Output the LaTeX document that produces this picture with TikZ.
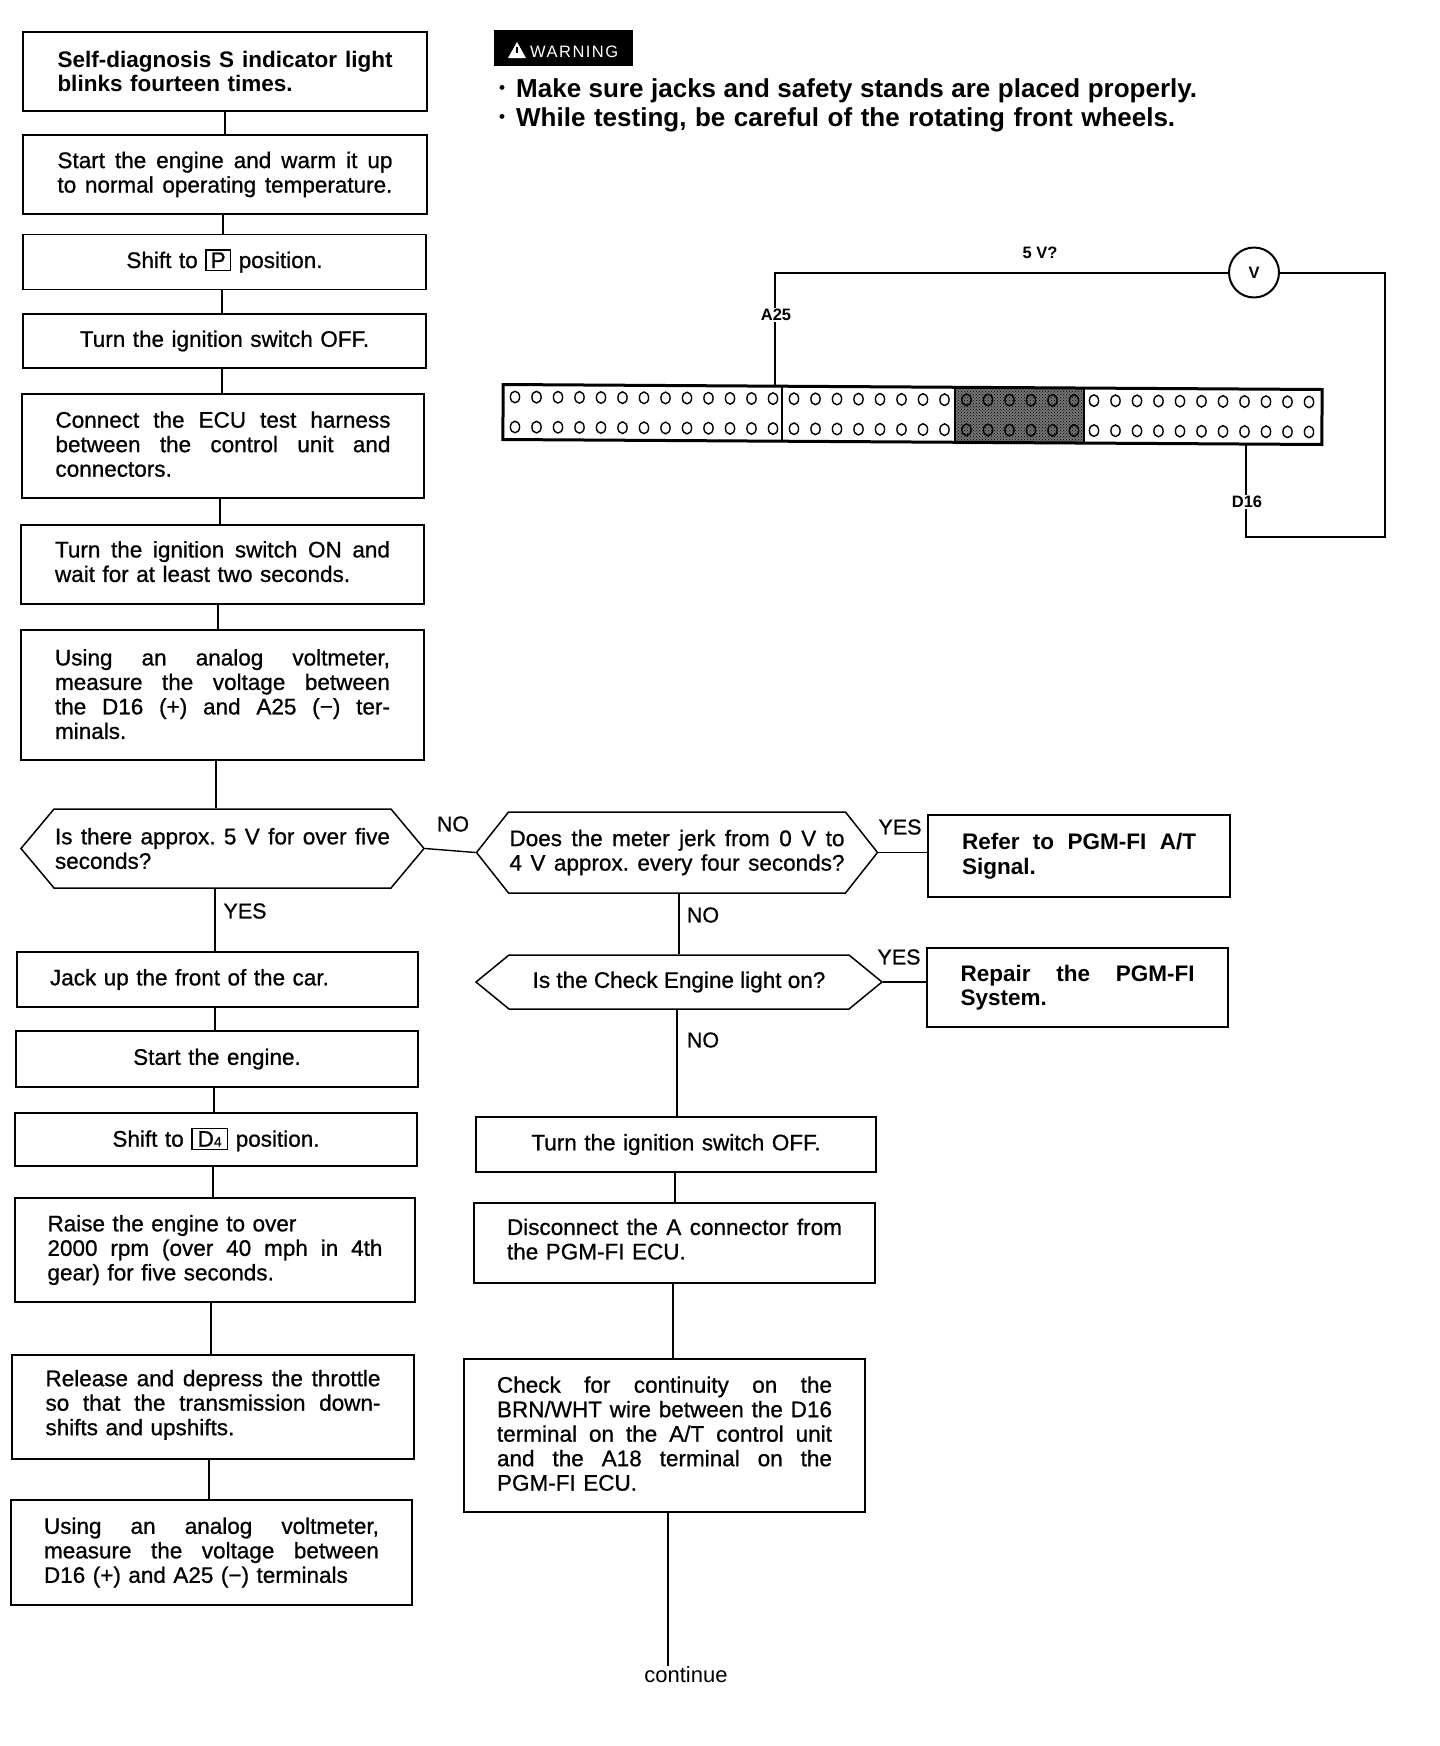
\documentclass[tikz,border=0pt]{standalone}
\usepackage{fontspec}
\setmainfont{Liberation Sans}
\newfontfamily\medf[FakeBold=0.8]{Liberation Sans}
\newfontfamily\bldf{Liberation Sans Bold}
\usetikzlibrary{shapes.symbols,patterns}
\frenchspacing
\newcommand\jl[2][335pt]{\makebox[#1][s]{\spaceskip=0pt\xspaceskip=0pt #2}}
\newcommand\up[1]{\rule[-#1]{0pt}{0pt}}
\newcommand\conn[3]{\draw[wire] (#1.south -| #3,0) -- (#2.north -| #3,0);}
\tikzset{
  x=1pt,y=-1pt,
  wire/.style={line width=1.4pt,black},
  thickw/.style={line width=2pt,black},
  box/.style={draw=black,line width=1.5pt,rectangle,inner sep=0pt,minimum width=#1,align=left,
    font=\medf\frenchspacing\fontsize{22.5}{24.5}\selectfont,text width=335pt},
  cbox/.style={box=#1,align=center},
  bbox/.style={box=#1,font=\bldf\frenchspacing\fontsize{22.5}{24.5}\selectfont},
  hexn/.style={draw=black,line width=1.5pt,signal,signal to=east and west,signal from=nowhere,
    signal pointer angle=#1,inner sep=0pt,align=left,font=\medf\frenchspacing\fontsize{22.5}{24.5}\selectfont},
  tag/.style={font=\medf\fontsize{21.5}{24}\selectfont,inner sep=0pt},
  small/.style={font=\bldf\fontsize{16.5}{18}\selectfont,inner sep=1.5pt},
  warnline/.style={font=\bldf\fontsize{26}{28}\selectfont,inner sep=0pt,anchor=west},
  pin/.style={draw=black,line width=1.4pt,fill=none},
}
\begin{document}
\begin{tikzpicture}
\useasboundingbox (0,0) rectangle (1440,1746);
\fill[white] (0,0) rectangle (1440,1746);

% left column
\node[bbox=404pt,minimum height=79pt] (b1) at (225,71.5) {\jl{Self-diagnosis S indicator light}\\blinks fourteen times.};
\node[box=404pt,minimum height=79pt] (b2) at (225,174.5) {\jl{Start the engine and warm it up}\\\jl{to normal operating temperature.}};
\node[cbox=403pt,minimum height=55pt] (b3) at (224.5,262) {Shift to \fboxsep=2pt\fboxrule=1.5pt\fbox{\makebox[19pt]{P}} position.\up{7pt}};
\node[cbox=403pt,minimum height=54pt] (b4) at (224.5,341) {Turn the ignition switch OFF.};
\node[box=402pt,minimum height=104pt] (b5) at (223,446) {\jl{Connect the ECU test harness}\\\jl{between the control unit and}\\connectors.\up{4pt}};
\node[box=403pt,minimum height=79pt] (b6) at (222.5,564.5) {\jl{Turn the ignition switch ON and}\\wait for at least two seconds.\up{6pt}};
\node[box=403pt,minimum height=130pt] (b7) at (222.5,695) {\jl{Using an analog voltmeter,}\\\jl{measure the voltage between}\\\jl{the D16 (+) and A25 ({\char"2212}) ter-}\\minals.\up{2pt}};
\node[hexn=100.2,minimum width=403pt,minimum height=79pt] (d1) at (222.5,848.5) {\jl{Is there approx. 5 V for over five}\\seconds?};
\node[box=401pt,minimum height=55pt] (b8) at (217.5,979.5) {Jack up the front of the car.};
\node[cbox=402pt,minimum height=56pt] (b9) at (217,1059) {Start the engine.};
\node[cbox=402pt,minimum height=53pt] (b10) at (216,1139.5) {Shift to \fboxsep=2pt\fboxrule=1.5pt\fbox{\makebox[30pt]{D{\fontsize{14}{14}\selectfont 4}}} position.};
\node[box=400pt,minimum height=104pt] (b11) at (215,1250) {Raise the engine to over\\\jl{2000 rpm (over 40 mph in 4th}\\gear) for five seconds.};
\node[box=402pt,minimum height=104pt] (b12) at (213,1407) {\jl{Release and depress the throttle}\\\jl{so that the transmission down-}\\shifts and upshifts.\up{9pt}};
\node[box=401pt,minimum height=105pt] (b13) at (211.5,1552.5) {\jl{Using an analog voltmeter,}\\\jl{measure the voltage between}\\D16 (+) and A25 ({\char"2212}) terminals};

% right column
\node[hexn=103.3,minimum width=401pt,minimum height=81pt] (d2) at (677,852.5) {\jl{Does the meter jerk from 0 V to}\\\jl{4 V approx. every four seconds?}};
\node[hexn=78.6,minimum width=406pt,minimum height=54pt,align=center] (d3) at (679,982) {Is the Check Engine light on?};
\node[cbox=400pt,minimum height=55pt] (r1) at (676,1144.5) {Turn the ignition switch OFF.};
\node[box=401pt,minimum height=80pt] (r2) at (674.5,1243) {\jl{Disconnect the A connector from}\\the PGM-FI ECU.\up{8pt}};
\node[box=401pt,minimum height=153pt] (r3) at (664.5,1435.5) {\jl{Check for continuity on the}\\\jl{BRN/WHT wire between the D16}\\\jl{terminal on the A/T control unit}\\\jl{and the A18 terminal on the}\\PGM-FI ECU.\up{4pt}};
\node[bbox=302pt,minimum height=82pt,text width=234pt] (y1) at (1079,856) {\jl[234pt]{Refer to PGM-FI A/T}\\Signal.};
\node[bbox=301pt,minimum height=79pt,text width=234pt] (y2) at (1077.5,987.5) {\jl[234pt]{Repair the PGM-FI}\\System.};
\node[font=\fontsize{22}{24}\selectfont,inner sep=0pt,minimum height=18pt] (cont) at (686,1675) {continue};

% connectors
\conn{b1}{b2}{225}
\conn{b2}{b3}{223}
\conn{b3}{b4}{222}
\conn{b4}{b5}{222}
\conn{b5}{b6}{220}
\conn{b6}{b7}{218}
\conn{b7}{d1}{216}
\conn{d1}{b8}{215}
\conn{b8}{b9}{215}
\conn{b9}{b10}{214}
\conn{b10}{b11}{213}
\conn{b11}{b12}{211}
\conn{b12}{b13}{209}
\conn{d2}{d3}{679}
\conn{d3}{r1}{677}
\conn{r1}{r2}{675}
\conn{r2}{r3}{673}
\conn{r3}{cont}{668}
\draw[wire] (d1.east) -- (d2.west);
\draw[wire] (d2.east) -- (y1.west |- d2.east);
\draw[wire] (d3.east) -- (y2.west |- d3.east);

% branch labels
\node[tag] (lno1) at (453,824) {NO};
\node[tag] (lyes1) at (245,911) {YES};
\node[tag] (lno2) at (703,915) {NO};
\node[tag] (lno3) at (703,1040) {NO};
\node[tag] (lyes2) at (900,827) {YES};
\node[tag] (lyes3) at (899,957) {YES};

% warning
\node[fill=black,minimum width=139pt,minimum height=36pt,inner sep=0pt] (wbox) at (563.5,48) {};
\node[font=\fontsize{16.5}{18}\selectfont,text=white,inner sep=0pt,anchor=west] (wtxt) at (530,52) {\addfontfeature{LetterSpace=9}WARNING};
\fill[white] (508,58) -- (517,42) -- (526,58) -- cycle;
\draw[black,line width=1.6pt] (517,47) -- (517,53);
\node[warnline,font=\bldf\fontsize{17}{17}\selectfont] (w0a) at (499,89) {\textbullet};
\node[warnline] (w1) at (516,91) {\makebox[681pt][s]{Make sure jacks and safety stands are placed properly.}};
\node[warnline,font=\bldf\fontsize{17}{17}\selectfont] (w0b) at (499,118) {\textbullet};
\node[warnline] (w2) at (516,120) {\makebox[659pt][s]{While testing, be careful of the rotating front wheels.}};

% connector block
\fill[black!55] (955,388) rectangle (1084,444);
\fill[pattern=crosshatch dots,pattern color=black] (955,388) rectangle (1084,444);
\node[draw=black,line width=3pt,rectangle,rotate=-0.35,minimum width=819pt,minimum height=55pt,inner sep=0pt] (block) at (912.5,414.5) {};
\draw[black,line width=1.8pt] (782,387) -- (782,441);
\draw[black,line width=1.4pt] (955,388) -- (955,443);
\draw[black,line width=1.4pt] (1084,389) -- (1084,444);
\foreach \xa/\n in {515/13,794/8,966.5/6,1094/11}{
  \pgfmathtruncatemacro\m{\n-1}
  \foreach \i in {0,...,\m}{
    \pgfmathsetmacro\px{\xa+\i*21.5}
    \pgfmathsetmacro\pa{397+(\px-515)*5/800}
    \pgfmathsetmacro\pb{427+(\px-515)*5/800}
    \draw[pin] (\px,\pa) ellipse [x radius=4.6pt,y radius=5.8pt];
    \draw[pin] (\px,\pb) ellipse [x radius=4.6pt,y radius=5.8pt];
  }
}
\node[draw=black,circle,line width=2pt,minimum size=50pt,inner sep=0pt,font=\bldf\fontsize{16.5}{18}\selectfont] (vm) at (1254,272.5) {V};
\coordinate (tl) at (775,272);
\coordinate (tr) at (1385,273);
\coordinate (br) at (1385,537);
\coordinate (bl) at (1246,537);
\draw[thickw] (vm.west) -- (vm.west -| tl) -- (block.north -| tl);
\draw[thickw] (vm.east) -- (vm.east -| tr) -- (br) -- (bl) -- (block.south -| bl);
\node[small,fill=white] (la) at (776,315) {A25};
\node[small,fill=white] (ld) at (1247,502) {D16};
\node[small] (lv) at (1040,253) {5 V?};
\end{tikzpicture}
\end{document}
